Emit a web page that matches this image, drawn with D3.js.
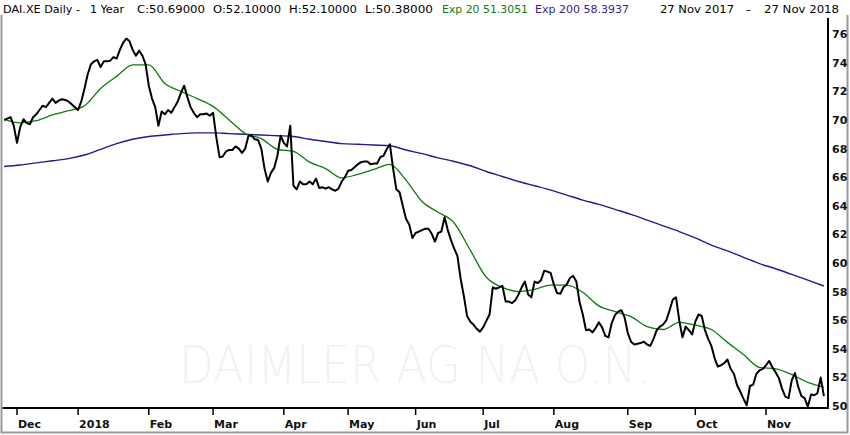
<!DOCTYPE html>
<html>
<head>
<meta charset="utf-8">
<script src="https://cdn.jsdelivr.net/npm/d3@7"></script>
<style>
  html, body { margin: 0; padding: 0; background: #ffffff; }
  svg { display: block; }
  text { font-family: "DejaVu Sans", "Noto Sans", sans-serif; }
</style>
</head>
<body>
<svg id="chart" width="850" height="435"></svg>
<script>
// ---- DATA ----
const titleParts = ["DAI.XE Daily -", "1 Year"];
const quote = ["C:50.69000", "O:52.10000", "H:52.10000", "L:50.38000"];
const ema20Label = "Exp 20 51.3051";
const ema200Label = "Exp 200 58.3937";
const rangeLabel = ["27 Nov 2017", "-", "27 Nov 2018"];
const watermark = "DAIMLER AG NA O.N.";

// daily closes, trading day index 0 (27 Nov 2017) .. 255 (27 Nov 2018)
const close = [
  70.0, 70.1, 70.2, 69.6, 68.4, 69.5, 70.05, 69.8, 69.7, 70.2,
  70.4, 70.7, 71.0, 70.9, 71.2, 71.5, 71.2, 71.35, 71.45, 71.4,
  71.3, 71.1, 70.9, 70.7, 71.3, 72.2, 73.2, 73.9, 74.1, 74.2,
  73.7, 74.1, 74.1, 74.15, 74.4, 74.3, 74.9, 75.4, 75.7, 75.5,
  74.9, 74.5, 74.85, 74.5, 73.9, 72.4, 71.5, 70.9, 69.6, 70.6,
  70.4, 70.7, 70.5, 70.9, 71.3, 71.9, 72.4, 71.6, 70.9, 70.5,
  70.2, 70.4, 70.4, 70.45, 70.3, 70.5, 68.8, 67.4, 67.45, 67.8,
  67.9, 67.9, 68.15, 68.0, 67.7, 68.0, 68.9, 68.9, 68.65, 68.6,
  68.0, 66.6, 65.7, 66.3, 66.65, 67.5, 68.9, 68.4, 68.15, 69.6,
  65.4, 65.15, 65.7, 65.5, 65.5, 65.7, 65.5, 65.9, 65.25, 65.3,
  65.2, 65.3, 65.15, 65.05, 65.2, 65.7, 66.0, 66.45, 66.5, 66.7,
  66.9, 67.05, 67.1, 67.1, 66.9, 66.95, 66.95, 67.4, 67.5, 67.95,
  68.3, 66.6, 65.15, 64.95, 64.0, 63.1, 62.7, 61.75, 62.1, 62.2,
  62.3, 62.4, 62.4, 62.05, 61.5, 62.1, 62.2, 63.2, 62.3, 61.6,
  61.0, 60.5, 58.9, 57.7, 56.3, 55.9, 55.7, 55.4, 55.2, 55.5,
  55.95, 56.4, 58.3, 58.2, 58.3, 58.4, 57.3, 57.3, 57.2, 57.4,
  57.8, 58.3, 58.7, 57.8, 57.6, 58.7, 58.6, 58.8, 59.45, 59.4,
  59.3, 58.5, 57.9, 57.85, 58.3, 58.5, 58.95, 59.1, 58.7, 57.25,
  56.4, 55.3, 55.35, 55.15, 55.45, 55.85, 55.5, 54.9, 54.8, 55.8,
  56.35, 56.6, 56.7, 56.2, 55.1, 54.5, 54.3, 54.35, 54.4, 54.5,
  54.3, 54.2, 54.7, 55.3, 55.55, 55.7, 56.0, 56.7, 57.45, 57.6,
  56.0, 54.8, 55.55, 55.3, 55.0, 55.9, 56.4, 56.3, 55.3, 54.7,
  54.2, 53.35, 52.75, 52.85, 53.0, 53.25, 52.6, 52.25, 51.45, 51.0,
  50.5, 50.05, 51.4, 51.5, 52.25, 52.5, 52.6, 52.85, 53.15, 52.7,
  52.35, 51.95, 51.2, 50.65, 50.55, 51.8, 52.3, 51.35, 50.7, 50.55,
  49.95, 50.8, 50.75, 50.9, 52.0, 50.69
];

// moving averages read every 5 trading days (index 0, 5, 10, ... 255)
const emaStep = 5;
const ema20 = [
  70.05, 69.8, 69.95, 70.35, 70.65, 71.0, 72.2, 73.05, 73.85, 73.85,
  72.55, 72.0, 71.5, 70.95, 70.0, 69.05, 68.7, 67.95, 67.8, 67.05,
  66.6, 65.95, 66.2, 66.55, 66.9, 65.8, 64.3, 63.55, 62.8, 60.9,
  59.0, 58.3, 58.0, 58.15, 58.45, 58.45, 57.95, 57.0, 56.6, 56.25,
  55.55, 55.35, 55.85, 55.65, 55.35, 54.45, 53.6, 52.7, 52.6, 52.2,
  51.65, 51.31
];
const ema200 = [
  66.75, 66.85, 67.0, 67.15, 67.3, 67.55, 67.95, 68.35, 68.65, 68.85,
  68.95, 69.05, 69.1, 69.1, 69.05, 69.0, 68.95, 68.9, 68.85, 68.65,
  68.5, 68.35, 68.3, 68.25, 68.2, 67.9, 67.65, 67.35, 67.1, 66.8,
  66.4, 66.05, 65.7, 65.4, 65.1, 64.75, 64.4, 64.1, 63.75, 63.4,
  63.0, 62.6, 62.2, 61.75, 61.25, 60.85, 60.4, 59.95, 59.6, 59.2,
  58.8, 58.39
];

// month axis: labels and the trading-day index of each month's first session
const monthLabels = ["Dec", "2018", "Feb", "Mar", "Apr", "May", "Jun", "Jul", "Aug", "Sep", "Oct", "Nov"];
const monthIndex  = [4, 23, 45, 65, 87, 107, 128, 149, 171, 194, 215, 237];
const priceTicks = [50, 52, 54, 56, 58, 60, 62, 64, 66, 68, 70, 72, 74, 76];

// ---- DRAWING ----
const svg = d3.select("#chart");
const W = 850, H = 435;
const plot = { left: 4, right: 828, top: 18, bottom: 408 };

const x = d3.scaleLinear().domain([0, 255]).range([4.14, 823.9]);
const y = d3.scaleLinear().domain([50, 76]).range([406, 34.2]);

// frame
svg.append("rect").attr("x", 0).attr("y", 0).attr("width", W).attr("height", H).attr("fill", "#ffffff");
svg.append("path")
  .attr("d", `M1.5,15 V432.5 H847.5 V15`)
  .attr("fill", "none").attr("stroke", "#9a9a9a").attr("stroke-width", 2);

// watermark
svg.append("text")
  .attr("x", 415).attr("y", 383)
  .attr("text-anchor", "middle")
  .attr("font-size", 52)
  .attr("font-family", "'Open Sans', 'DejaVu Sans', sans-serif")
  .attr("font-weight", 300)
  .attr("textLength", 472).attr("lengthAdjust", "spacingAndGlyphs")
  .attr("fill", "#f2f2f2")
  .text(watermark);

svg.append("clipPath").attr("id", "clip")
  .append("rect").attr("x", plot.left).attr("y", plot.top)
  .attr("width", plot.right - plot.left).attr("height", plot.bottom - plot.top);

const g = svg.append("g").attr("clip-path", "url(#clip)");

const emaLine = d3.line()
  .x((d, i) => x(i * emaStep))
  .y(d => y(d))
  .curve(d3.curveMonotoneX);

g.append("path").datum(ema200)
  .attr("d", emaLine)
  .attr("fill", "none").attr("stroke", "#2d168c").attr("stroke-width", 1.4);

g.append("path").datum(ema20)
  .attr("d", emaLine)
  .attr("fill", "none").attr("stroke", "#0b7d0b").attr("stroke-width", 1.3);

const priceLine = d3.line()
  .x((d, i) => x(i))
  .y(d => y(d));

g.append("path").datum(close)
  .attr("d", priceLine)
  .attr("fill", "none").attr("stroke", "#000000").attr("stroke-width", 2)
  .attr("stroke-linejoin", "round");

// axes lines
svg.append("line").attr("x1", plot.right).attr("x2", plot.right)
  .attr("y1", plot.top).attr("y2", plot.bottom + 1)
  .attr("stroke", "#000").attr("stroke-width", 2);
svg.append("line").attr("x1", 2.5).attr("x2", plot.right + 1)
  .attr("y1", plot.bottom).attr("y2", plot.bottom)
  .attr("stroke", "#000").attr("stroke-width", 2);

// y tick labels (right)
svg.append("g").selectAll("text").data(priceTicks).join("text")
  .attr("x", 832).attr("y", d => y(d))
  .attr("dy", "0.36em")
  .attr("font-size", 11).attr("font-weight", "bold")
  .attr("fill", "#111")
  .text(d => d);

// x axis ticks and labels
const xt = svg.append("g");
xt.selectAll("line").data(monthIndex).join("line")
  .attr("x1", d => x(d)).attr("x2", d => x(d))
  .attr("y1", plot.bottom).attr("y2", plot.bottom + 7)
  .attr("stroke", "#000").attr("stroke-width", 1.5);
xt.selectAll("text").data(monthIndex).join("text")
  .attr("x", d => x(d) + 1).attr("y", 428)
  .attr("font-size", 11).attr("font-weight", "bold")
  .attr("fill", "#111")
  .text((d, i) => monthLabels[i]);

// header (each piece fitted to the width it takes in the reference)
const hdr = svg.append("g").attr("font-size", 11).attr("fill", "#000");
function head(txt, x0, len, color) {
  hdr.append("text").attr("x", x0).attr("y", 13)
    .attr("textLength", len).attr("lengthAdjust", "spacingAndGlyphs")
    .attr("fill", color || "#000").text(txt);
}
head(titleParts[0], 3, 77);
head(titleParts[1], 90, 34);
const quoteX = [137, 213, 289, 365];
quote.forEach((q, i) => head(q, quoteX[i], 68));
head(ema20Label, 442, 86, "#137a13");
head(ema200Label, 535, 94, "#3b1e86");
head(rangeLabel[0], 660, 74);
head(rangeLabel[1], 746, 5);
head(rangeLabel[2], 764, 75);
</script>
</body>
</html>
